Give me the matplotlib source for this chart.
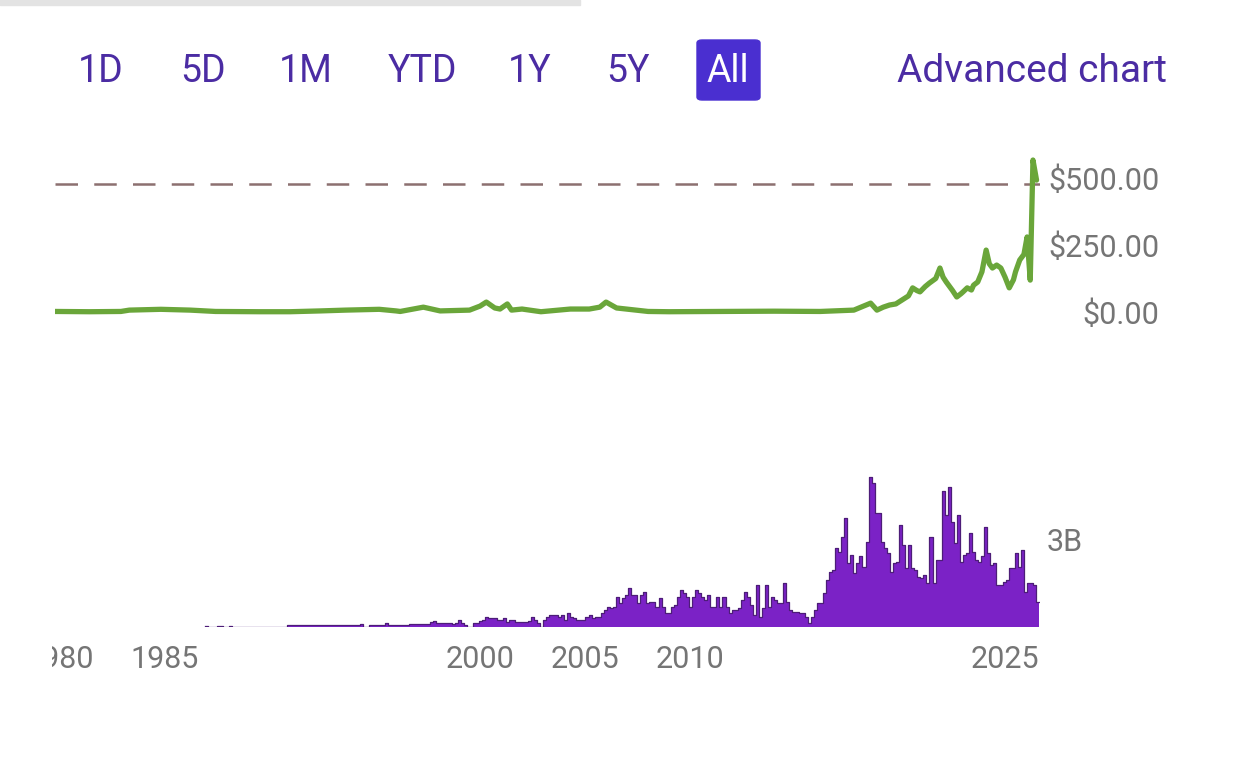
import numpy as np
import matplotlib
matplotlib.use("Agg")
import matplotlib.pyplot as plt
from matplotlib.patches import FancyBboxPatch, Rectangle
from matplotlib.transforms import Bbox, blended_transform_factory

plt.rcParams['font.family'] = ['Roboto', 'DejaVu Sans']

# price line (year, USD)
price_years = [1979.76, 1981.4, 1982.9, 1983.3, 1984.8, 1986.2, 1987.4, 1989.5, 1990.95,
               1992.4, 1993.6, 1995.2, 1996.0, 1996.2, 1997.3, 1998.1, 1999.5, 2000.0,
               2000.3, 2000.7, 2000.95, 2001.3, 2001.5, 2002.0, 2002.9, 2004.3, 2005.2,
               2005.7, 2006.0, 2006.5, 2008.0, 2009.0, 2011.4, 2014.0, 2016.2, 2017.8,
               2018.6, 2018.9, 2019.2, 2019.5, 2019.8, 2020.1, 2020.4, 2020.6, 2020.8,
               2020.95, 2021.2, 2021.4, 2021.7, 2021.9, 2022.05, 2022.2, 2022.5, 2022.7,
               2022.9, 2023.0, 2023.2, 2023.4, 2023.5, 2023.7, 2023.9, 2024.1, 2024.25,
               2024.4, 2024.6, 2024.8, 2025.0, 2025.2, 2025.4, 2025.5, 2025.7, 2025.9,
               2026.05, 2026.2, 2026.33, 2026.5]
price_usd = [2, 1, 2, 7, 10, 7, 2, 1, 1,
             4, 7, 10, 4, 2, 18, 4, 7, 22,
             37, 15, 11, 30, 7, 11, 1, 11, 11,
             18, 37, 15, 2, 1, 2, 3, 2, 7,
             33, 7, 18, 26, 30, 45, 60, 90, 80,
             75, 95, 108, 125, 164, 130, 112, 80, 56,
             68, 75, 90, 82, 100, 112, 150, 231, 180,
             164, 175, 164, 130, 90, 120, 150, 194, 215,
             280, 119, 567, 492]
ref_price = 478

# volume, billions of shares, in consecutive periods from 1986.9 to 2026.62
vol_1986 = [0.05, 0, 0, 0, 0.05, 0.05, 0, 0, 0.05, 0, 0, 0, 0, 0, 0, 0, 0, 0,
            0, 0, 0, 0, 0, 0, 0, 0, 0]
vol_1990 = [0.06, 0.06, 0.06, 0.06, 0.06, 0.06, 0.06, 0.06, 0.06, 0.06, 0.06, 0.06,
            0.06, 0.06, 0.06, 0.06, 0.06, 0.06, 0.06, 0.06, 0.06, 0.06, 0.06, 0.06,
            0.12, 0, 0, 0.06, 0.06, 0.06, 0.06, 0.06, 0.14, 0.06, 0.06, 0.06, 0.06,
            0.06, 0.06, 0.06, 0.1, 0.1, 0.1, 0.1, 0.12, 0.12, 0.1, 0.18, 0.22, 0.14]
vol_1998 = [0.13, 0.14, 0.13, 0.13, 0.12, 0.13, 0.24, 0.13, 0.08, 0.0,
            0.0, 0.13, 0.13, 0.2, 0.24, 0.36, 0.3, 0.3, 0.3, 0.24,
            0.24, 0.3, 0.18, 0.24, 0.24, 0.18, 0.18, 0.18, 0.18, 0.22,
            0.36, 0.24, 0.13, 0.0, 0.24, 0.36, 0.41, 0.41, 0.41, 0.36,
            0.41, 0.24, 0.49, 0.36, 0.3, 0.24, 0.24, 0.24, 0.36, 0.4,
            0.3, 0.36]
vol_2006 = [0.36, 0.47, 0.59, 0.70, 0.64, 0.70, 1.05, 0.82, 0.99, 1.10,
            1.33, 1.10, 1.10, 0.82, 1.10, 1.22, 0.82, 0.87, 0.87, 0.70,
            0.99, 0.70, 0.47, 0.47, 0.70, 0.76, 1.05, 1.28, 1.16, 1.05,
            0.70, 1.05, 1.28, 1.16, 1.05, 0.93, 1.10, 0.70, 0.70, 1.05,
            0.70, 1.05, 0.70, 0.47, 0.59, 0.59, 0.64, 0.93, 1.22, 1.05,
            0.76, 0.41, 1.45, 0.36, 0.64, 1.45, 0.70, 1.05, 0.93, 0.82,
            0.82, 1.51, 0.87, 0.59, 0.53, 0.53, 0.47, 0.47, 0.36, 0.13]
vol_2016 = [0.36, 0.59, 0.82, 0.82, 1.16, 1.62, 1.91, 1.97, 2.71, 2.6,
            3.11, 3.75, 2.2, 2.48, 1.85, 2.2, 2.43, 2.08, 2.94, 5.16,
            4.95, 3.92, 3.92, 2.94, 2.71, 2.54, 1.91, 2.2, 2.25, 3.52,
            2.83, 2.02, 2.83, 2.02, 1.97, 1.74, 1.68, 1.79, 1.51, 3.11,
            1.51, 2.31, 2.31, 4.67, 3.86, 4.84, 3.63, 2.89, 3.86, 2.25,
            2.48, 2.54, 3.23, 2.6, 2.31, 2.25, 2.43, 3.46, 2.54, 2.14,
            2.2, 1.45, 1.45, 1.56, 1.62, 2.02, 2.02, 2.54, 2.08, 2.66,
            1.22, 1.51, 1.51, 1.45, 0.87]
vol_first_year = 1986.9
vol_last_year = 2026.62

x_ticks = [1980, 1985, 2000, 2005, 2010, 2025]
price_ticks = [0, 250, 500]
price_labels = ["$0.00", "$250.00", "$500.00"]
vol_ticks = [3]
vol_labels = ["3B"]
ranges = ["1D", "5D", "1M", "YTD", "1Y", "5Y", "All"]
active_range = "All"

W, H = 1240, 759
fig = plt.figure(figsize=(W / 100, H / 100), dpi=100)
fig.patch.set_facecolor("white")

def frac(x0, y0, x1, y1):
    # pixel box (top-left origin) -> figure fraction rect
    return [x0 / W, 1 - y1 / H, (x1 - x0) / W, (y1 - y0) / H]

xlim = (1979.76, 1979.76 + 985 / 21)
grey = "#757575"
ink = "#4b2ca3"

# top scroll strip
fig.patches.append(Rectangle((0, 1 - 5 / H), 580 / W, 5 / H, transform=fig.transFigure,
                             color="#e3e3e3", zorder=0))

# range buttons
btn_x = [101, 203, 306, 422, 530, 628, 728]
for lab, bx in zip(ranges, btn_x):
    if lab == active_range:
        fig.patches.append(FancyBboxPatch((697 / W, 1 - 100 / H), 63 / W, 60 / H,
                                          boxstyle="round,pad=0,rounding_size=0.004",
                                          transform=fig.transFigure, color="#4a2fd0"))
        fig.text(bx / W, 1 - 71 / H, lab, color="white", fontsize=27, ha="center", va="center")
    else:
        fig.text(bx / W, 1 - 71 / H, lab, color=ink, fontsize=27, ha="center", va="center")
fig.text(1167 / W, 1 - 71 / H, "Advanced chart", color=ink, fontsize=28, ha="right", va="center")

# price panel
axp = fig.add_axes(frac(55, 150, 1040, 330))
axp.plot(price_years, price_usd, color="#6aa63a", lw=3.8, solid_joinstyle="round",
         solid_capstyle="round", zorder=3)
axp.axhline(ref_price, color="#8c7070", lw=1.8, dashes=(9, 6.5), zorder=2)
axp.set_xlim(*xlim)
axp.set_ylim(-67.2, 604.4)
axp.yaxis.tick_right()
axp.set_yticks(price_ticks)
axp.set_yticklabels(price_labels)
axp.tick_params(axis="y", length=0, pad=86, labelsize=22, labelcolor=grey)
for t in axp.get_yticklabels():
    t.set_horizontalalignment("right")
axp.set_xticks([])
for s in axp.spines.values():
    s.set_visible(False)
axp.patch.set_alpha(0)

# volume panel
axv = fig.add_axes(frac(55, 470, 1040, 627))
volume_b = vol_1986 + vol_1990 + vol_1998 + vol_2006 + vol_2016
edges = np.linspace(vol_first_year, vol_last_year, len(volume_b) + 1)
axv.bar(edges[:-1], volume_b, width=np.diff(edges), align="edge", color="#7b22c6",
        linewidth=0)
axv.step(edges, volume_b + [volume_b[-1]], where="post", color="#4d1d78", lw=0.9)
axv.set_xlim(*xlim)
axv.set_ylim(0, 5.41)
axv.yaxis.tick_right()
axv.set_yticks(vol_ticks)
axv.set_yticklabels(vol_labels)
axv.tick_params(axis="y", length=0, pad=5, labelsize=22, labelcolor=grey)
axv.set_xticks([])
for s in axv.spines.values():
    s.set_visible(False)

# year labels, left one cut by the panel edge
clip = Bbox.from_extents(52, 0, W, H)
tr = blended_transform_factory(axv.transData, fig.transFigure)
for yr in x_ticks:
    t = axv.text(yr, 1 - 659 / H, str(yr), transform=tr, ha="center", va="center",
                 fontsize=22, color=grey)
    t.set_clip_path(None)
    t.set_clip_box(clip)
    t.set_clip_on(True)

fig.savefig("out.png", dpi=100, facecolor="white")
